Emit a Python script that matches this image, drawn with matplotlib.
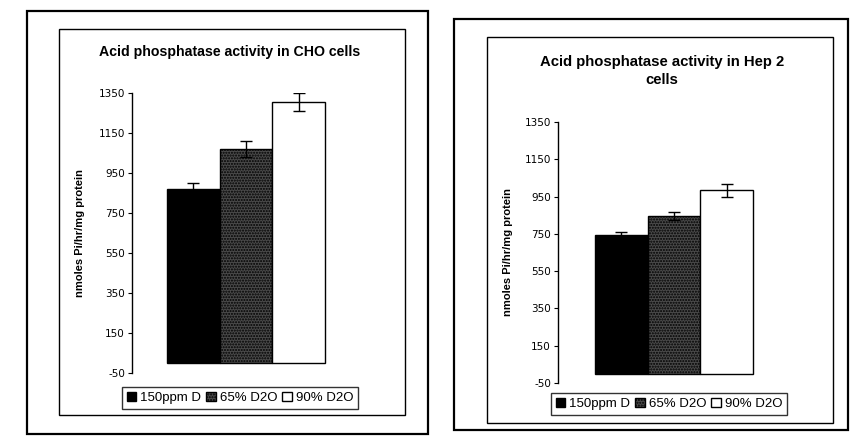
import matplotlib
matplotlib.use("Agg")
import matplotlib.pyplot as plt
from matplotlib.patches import Rectangle

plt.rcParams["axes.unicode_minus"] = False

# Treatment groups and measured activity (nmoles Pi/hr/mg protein)
groups = ["150ppm D", "65% D2O", "90% D2O"]
cho_values = [870, 1070, 1305]
cho_errors = [30, 40, 47]
hep_values = [745, 846, 983]
hep_errors = [14, 22, 35]
yticks = [-50, 150, 350, 550, 750, 950, 1150, 1350]

W, H = 850, 441
fig = plt.figure(figsize=(W / 100, H / 100), dpi=100)
fig.patch.set_facecolor("white")

TITLE_FONT = ["Liberation Sans", "DejaVu Sans"]


def box(x0, y0, x1, y1, lw):
    fig.add_artist(Rectangle((x0 / W, 1 - y1 / H), (x1 - x0) / W, (y1 - y0) / H,
                             transform=fig.transFigure, fill=False,
                             edgecolor="black", linewidth=lw))


def panel(rect_px, values, errors, xlim, label_xy, legend_center):
    l, r, t, b = rect_px
    ax = fig.add_axes([l / W, 1 - b / H, (r - l) / W, (b - t) / H])
    styles = [dict(color="black"),
              dict(color="#4a4a4a", hatch="......"),
              dict(color="white")]
    handles = []
    for i, (v, e, name, st) in enumerate(zip(values, errors, groups, styles)):
        bar = ax.bar(i, v, width=1.0, facecolor=st["color"], edgecolor="black",
                     linewidth=1.0, hatch=st.get("hatch"), label=name, zorder=2)
        ax.errorbar(i, v, yerr=e, fmt="none", ecolor="black", elinewidth=1.0,
                    capsize=4, capthick=1.0, zorder=3)
        handles.append(bar)
    ax.set_xlim(*xlim)
    ax.set_ylim(-50, 1350)
    ax.set_yticks(yticks)
    ax.set_xticks([])
    for s in ("top", "right", "bottom"):
        ax.spines[s].set_visible(False)
    ax.spines["left"].set_linewidth(1.0)
    ax.tick_params(axis="y", direction="out", length=3, width=0.8, pad=2,
                   labelsize=7.5)
    ax.set_ylabel("nmoles Pi/hr/mg protein", fontsize=8, fontweight="bold",
                  family=TITLE_FONT)
    ax.yaxis.set_label_coords(*label_xy)
    cx, cy = legend_center
    leg = fig.legend(handles=handles, labels=groups, loc="center",
                     bbox_to_anchor=(cx / W, 1 - cy / H), ncol=3,
                     frameon=True, fancybox=False, edgecolor="black",
                     handlelength=0.7, handleheight=0.7, handletextpad=0.3,
                     columnspacing=0.4, borderpad=0.35, borderaxespad=0,
                     prop={"family": TITLE_FONT, "size": 9.5})
    leg.get_frame().set_linewidth(1.0)
    return ax


# Left panel: CHO cells
box(27, 11, 428, 434, 1.6)
box(59, 29, 405, 415, 1.0)
fig.text(230 / W, 1 - 52 / H, "Acid phosphatase activity in CHO cells",
         ha="center", va="center", fontsize=10.2, fontweight="bold",
         family=TITLE_FONT)
panel((132, 360, 93, 373), cho_values, cho_errors, (-1.164, 3.164),
      (-0.206, 0.5), (240, 398))

# Right panel: Hep 2 cells
box(454, 19, 848, 430, 1.6)
box(487, 37, 833, 423, 1.0)
fig.text(662 / W, 1 - 71 / H, "Acid phosphatase activity in Hep 2\ncells",
         ha="center", va="center", fontsize=10.7, fontweight="bold",
         family=TITLE_FONT, linespacing=1.3)
panel((558, 790, 122, 383), hep_values, hep_errors, (-1.2, 3.2),
      (-0.194, 0.5), (669, 404))

fig.savefig("out.png", dpi=100, facecolor="white")
